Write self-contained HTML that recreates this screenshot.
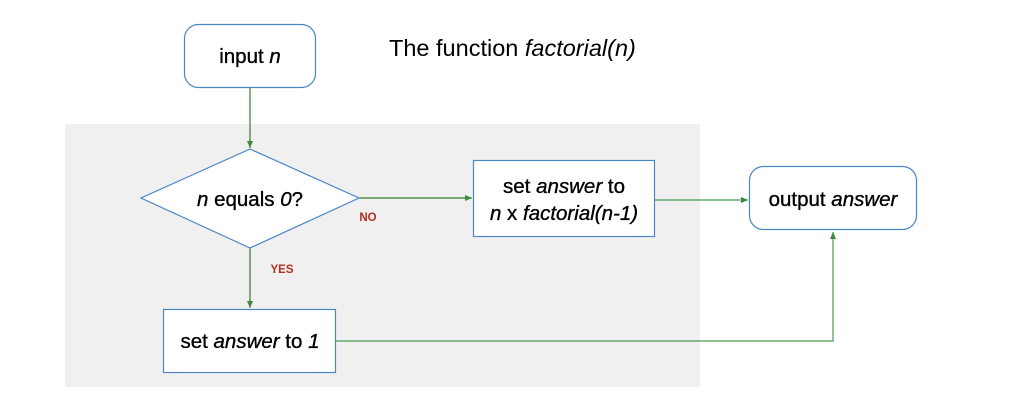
<!DOCTYPE html>
<html><head><style>
body{margin:0;width:1024px;height:400px;background:#fff;overflow:hidden}
svg text{font-family:"Liberation Sans",sans-serif}
</style></head><body>
<svg width="1024" height="400" xmlns="http://www.w3.org/2000/svg">
<defs>
<marker id="a" markerWidth="8" markerHeight="8" refX="7" refY="4" orient="auto" markerUnits="userSpaceOnUse">
<path d="M0,1 L7,4 L0,7 z" fill="#3a8a3a"/></marker>
</defs>
<rect x="65" y="124" width="635" height="263" fill="#f0f0f0"/>
<rect x="184.5" y="24.5" width="131" height="63" rx="14" fill="#fff" stroke="#4a86c8" stroke-width="1.2"/>
<g stroke="#000" stroke-width="0.35">
<text x="250" y="63" font-size="20.5" text-anchor="middle">input <tspan font-style="italic">n</tspan></text>
<text x="250" y="206" font-size="20.5" text-anchor="middle"><tspan font-style="italic">n</tspan> equals <tspan font-style="italic">0</tspan>?</text>
<text x="564" y="193" font-size="20.5" text-anchor="middle">set <tspan font-style="italic">answer</tspan> to</text>
<text x="564" y="220" font-size="20.5" text-anchor="middle" font-style="italic">n <tspan font-style="normal">x</tspan> factorial(n-1)</text>
<text x="833" y="206" font-size="20.5" text-anchor="middle">output <tspan font-style="italic">answer</tspan></text>
<text x="250" y="348" font-size="20.5" text-anchor="middle">set <tspan font-style="italic">answer</tspan> to <tspan font-style="italic">1</tspan></text>
</g>
<text x="389" y="56" font-size="23.5">The function <tspan font-style="italic">factorial(n)</tspan></text>
<g stroke="#3a7a2a" stroke-width="1.2" fill="none">
<line x1="250" y1="88" x2="250" y2="148" marker-end="url(#a)"/>
<line x1="359" y1="198" x2="472" y2="198" marker-end="url(#a)"/>
<line x1="250" y1="248" x2="250" y2="308" marker-end="url(#a)"/>
<line x1="655" y1="200" x2="748" y2="200" stroke="#4a9a5a" marker-end="url(#a)"/>
<polyline points="336,341 833,341 833,232" stroke="#4a9a5a" marker-end="url(#a)"/>
</g>
<polygon points="250,149 359,198 250,248 141,198" fill="#fff" stroke="#4a86c8" stroke-width="1.2"/>
<g stroke="#000" stroke-width="0.35">
<text x="250" y="206" font-size="20.5" text-anchor="middle"><tspan font-style="italic">n</tspan> equals <tspan font-style="italic">0</tspan>?</text>
</g>
<text x="368" y="221" font-size="11.5" font-weight="bold" fill="#b03020" text-anchor="middle">NO</text>
<text x="282" y="273" font-size="11.5" font-weight="bold" fill="#b03020" text-anchor="middle">YES</text>
<rect x="473.5" y="160.5" width="181" height="76" fill="#fff" stroke="#4a86c8" stroke-width="1.2"/>
<rect x="749.5" y="166.5" width="167" height="63" rx="14" fill="#fff" stroke="#4a86c8" stroke-width="1.2"/>
<rect x="163.5" y="309.5" width="172" height="63" fill="#fff" stroke="#4a86c8" stroke-width="1.2"/>
<g stroke="#000" stroke-width="0.35">
<text x="564" y="193" font-size="20.5" text-anchor="middle">set <tspan font-style="italic">answer</tspan> to</text>
<text x="564" y="220" font-size="20.5" text-anchor="middle" font-style="italic">n <tspan font-style="normal">x</tspan> factorial(n-1)</text>
<text x="833" y="206" font-size="20.5" text-anchor="middle">output <tspan font-style="italic">answer</tspan></text>
<text x="250" y="348" font-size="20.5" text-anchor="middle">set <tspan font-style="italic">answer</tspan> to <tspan font-style="italic">1</tspan></text>
</g>
</svg>
</body></html>
